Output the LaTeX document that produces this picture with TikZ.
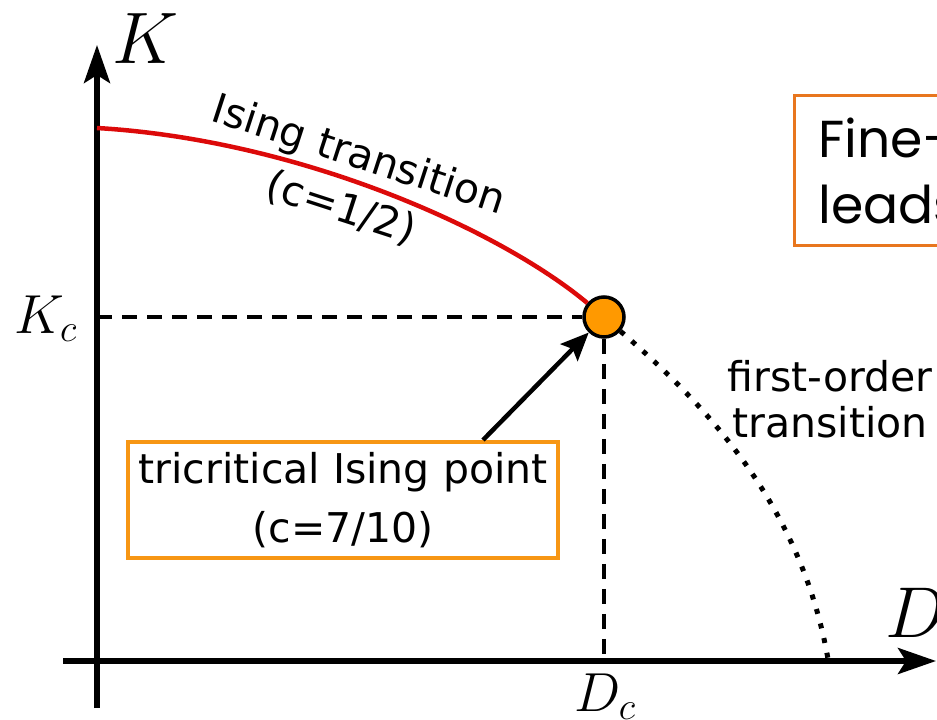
\RequirePackage{fix-cm}
\documentclass[tikz,border=0pt]{standalone}
\usepackage{fontspec}
\newfontfamily\dvs{DejaVu Sans}
\newfontfamily\pop{Poppins}
\usetikzlibrary{arrows.meta,calc}
\definecolor{circorange}{RGB}{255,153,0}
\definecolor{boxorange}{RGB}{247,150,20}
\definecolor{fineorange}{RGB}{232,118,30}
\definecolor{isingred}{RGB}{220,10,10}
\begin{document}
\begin{tikzpicture}[x=1pt,y=-1pt,
  axis/.style={line width=5.5pt,-{Stealth[length=38pt,width=26pt,inset=8pt]}},
  guide/.style={line width=4pt,dash pattern=on 15pt off 10pt},
  isingline/.style={line width=4.5pt,draw=isingred},
  firstline/.style={line width=5pt,dash pattern=on 5pt off 10pt},
  pointer/.style={line width=4.5pt,-{Stealth[length=28pt,width=24pt,inset=5pt]}},
  tcpstyle/.style={circle,draw=black,line width=3.5pt,fill=circorange,minimum size=40pt,inner sep=0},
  mathlbl/.style={inner sep=0,anchor=base west},
  lbl/.style={inner sep=0,align=center},
  tribox/.style={draw=boxorange,line width=4pt,minimum width=430pt,minimum height=116pt,inner sep=0,align=center,font=\dvs\fontsize{41}{59}\selectfont},
  finebox/.style={draw=fineorange,line width=3pt,anchor=north west,align=left,text width=300pt,minimum height=150pt,inner xsep=24pt,inner ysep=0,font=\pop\fontsize{52}{66}\selectfont}
]
\useasboundingbox (0,0) rectangle (937,720);
\clip (0,0) rectangle (937,720);

% axes
\coordinate (vb) at (97,708);
\coordinate (vt) at (97,45);
\coordinate (hl) at (63,661);
\coordinate (hr) at (936,661);
\draw[axis] (vb) -- (vt);
\draw[axis] (hl) -- (hr);

% axis labels
\node[mathlbl,font=\fontsize{73}{80}\selectfont] (K) at (112,63) {$K$};
\node[mathlbl,font=\fontsize{72}{80}\selectfont] (D) at (885,637) {$D$};
\node[mathlbl,font=\fontsize{55}{60}\selectfont] (Kc) at (14,333) {$K_c$};
\node[mathlbl,font=\fontsize{55}{60}\selectfont] (Dc) at (574,711) {$D_c$};

% tricritical point
\node[tcpstyle] (tcp) at (604,317) {};

% guides
\coordinate (kc0) at (97,317);
\coordinate (dc0) at (604,661);
\draw[guide] (kc0) -- (tcp.west);
\draw[guide] (tcp.south) -- (dc0);

% transition lines
\coordinate (k0) at (97,128);
\coordinate (d0) at (828,659);
\draw[isingline] (k0) .. controls (300,140) and (500,230) .. (tcp);
\draw[firstline] (tcp) .. controls (700,400) and (800,500) .. (d0);

% labels
\node[lbl,rotate=-18,font=\dvs\fontsize{41}{56}\selectfont] (isl) at (350,182) {Ising transition\\(c=1/2)};
\node[lbl,font=\dvs\fontsize{41}{46}\selectfont] (fol) at (830,399) {first-order\\transition};

% tricritical box and arrow
\node[tribox] (tri) at (343,500) {tricritical Ising point\\(c=7/10)};
\draw[pointer] ([xshift=140pt]tri.north) -- (tcp);

% fine-tuning box
\node[finebox] (fine) at (793,94) {Fine-\\leads};
\end{tikzpicture}
\end{document}
